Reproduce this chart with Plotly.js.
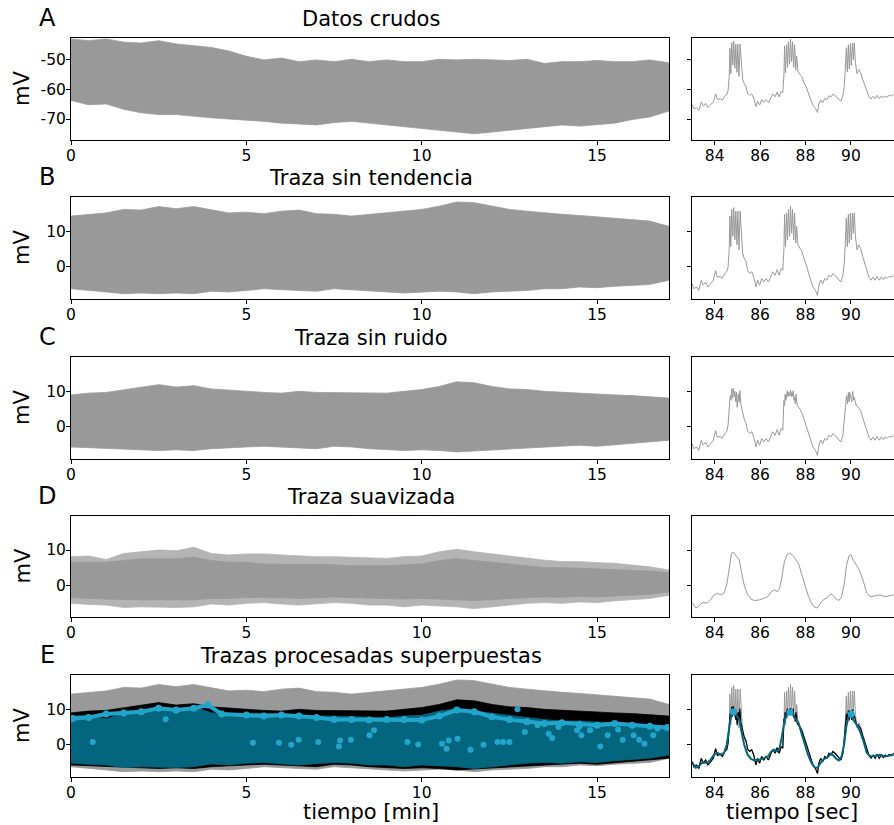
<!DOCTYPE html>
<html><head><meta charset="utf-8">
<script src="https://cdn.plot.ly/plotly-3.0.1.min.js"></script>
<style>html,body{margin:0;padding:0;background:#fff}#plot{width:894px;height:825px}</style>
</head><body><div id="plot"></div>
<script>
// ---------- DATA ----------
// Envelopes of the long recordings, time in minutes
const tMin = [0,0.5,1,1.5,2,2.5,3,3.5,4,4.5,5,5.5,6,6.5,7,7.5,8,8.5,9,9.5,10,10.5,11,11.5,12,12.5,13,13.5,14,14.5,15,15.5,16,16.5,17.05];
// A: raw data (mV)
const rawHi = [-42.9,-43.5,-42.9,-44,-44.3,-43.5,-44.6,-45.2,-45.8,-47,-48.8,-50,-49.4,-50.6,-50,-50.6,-49.8,-50.6,-50,-50.6,-50.6,-49.8,-50,-49.8,-50,-50.2,-49.8,-51.2,-50.6,-50.6,-50.2,-50.6,-50.6,-50,-51];
const rawLo = [-63.7,-65.2,-64.9,-66.7,-67.9,-68.5,-68.5,-69,-69.6,-70,-70.5,-70.8,-71.4,-71.7,-72,-71.2,-70.8,-71.2,-72,-72.6,-73.2,-73.8,-74.4,-75,-74.4,-73.8,-73.2,-72.6,-72,-72.4,-72,-71.4,-70.2,-69.3,-67.3];
// B: detrended
const detHi = [14.3,14.8,15.2,16.2,16,17,16.4,17,16.2,15.2,15.4,15,15.7,16,15,14.8,14.3,14.8,15.2,15.7,16.2,17.1,18.3,18.1,17.1,16.2,15.7,15.2,14.8,14.5,14.1,13.8,13.5,12.9,11.4];
const detLo = [-6.2,-6.7,-7.1,-7.6,-7.4,-7.6,-7.4,-7.6,-6.9,-7.1,-6.7,-6.2,-6.5,-6.7,-6.9,-6.2,-6.5,-6.9,-7.1,-7.4,-7.1,-6.9,-7.1,-7.6,-7.1,-6.9,-6.7,-6.2,-6.2,-5.7,-5.9,-5.5,-5.2,-5,-3.8];
// C: denoised
const denHi = [9,9.5,9.7,10.5,11.2,11.9,11.2,11.6,10.7,10.3,10,9.7,9.5,10,9.7,9.7,9.5,9.7,9.5,10,10.5,11.4,12.7,12.4,11.4,10.7,10.5,10,9.7,9.5,9.3,9,8.8,8.4,8.1];
const denLo = [-5.7,-5.9,-6.2,-6.5,-6.5,-6.7,-6.5,-6.7,-6.2,-5.9,-5.7,-5.5,-5.7,-5.9,-6.2,-5.5,-5.7,-6.2,-6.5,-6.7,-6.5,-6.7,-7.1,-6.9,-6.7,-6.2,-5.9,-5.7,-5.5,-5.2,-5.5,-5.2,-4.8,-4.3,-3.8];
// D: smoothed (outer extent and dense core)
const smoHi = [8.1,8.3,7.3,9,9.5,10,9.8,10.8,9,8.6,8.9,8.9,8.6,8.3,8.1,8.1,7.9,7.6,7.6,8.1,8.3,9.5,10.2,9.5,8.9,8.1,7.6,7.1,6.7,6.7,6.4,6.2,5.7,5.2,4.3];
const smoLo = [-5.2,-5.5,-5.7,-6.4,-6.2,-6.2,-6.4,-6.2,-5.4,-5.7,-5.2,-5,-5.4,-5.7,-5.4,-5,-5.2,-5.7,-5.7,-6.2,-5.7,-6,-6.2,-6.7,-6.2,-5.7,-5.2,-5,-5.2,-4.8,-5,-4.5,-4.1,-3.8,-2.9];
const smoCoreHi = [6.5,6.5,6.5,7,7.5,7.5,7.5,8,7,6.5,6.5,6,6,6,5.8,5.8,5.5,5.5,5.5,5.8,6,7,7.5,7,6.5,6,5.5,5,5,4.8,4.5,4.5,4.2,4,3.5];
const smoCoreLo = [-3.5,-3.8,-4,-4.2,-4.2,-4.2,-4.3,-4.2,-3.8,-3.8,-3.5,-3.5,-3.6,-3.8,-3.6,-3.4,-3.5,-3.8,-3.8,-4,-3.8,-4,-4.2,-4.4,-4.2,-3.8,-3.5,-3.4,-3.5,-3.2,-3.4,-3,-2.8,-2.6,-2];
// E: detected peaks (top band) and scattered peaks
const peakT = [0.05,0.5,1,1.5,2,2.5,3,3.5,3.9,4.3,5,5.5,6,6.5,7,7.5,8,8.5,9,9.5,10,10.5,11,11.5,12,12.5,13,13.5,14,14.5,15,15.5,16,16.5,17];
const peakV = [7.4,7.7,8.7,9,9.3,10.3,9.8,10.3,11.2,8.7,8.4,8.1,8.4,8.1,7.7,7.1,7.1,7,7.1,7.1,7,8.1,9.8,9.3,7.9,7.1,6.5,6,6.2,5.8,5.5,6,5.5,5.2,4.9];
const otherPeakT = [0.62,2.7,5.19,5.93,6.28,6.49,7.05,7.67,7.64,7.98,8.51,8.64,9.59,9.9,10.58,10.71,10.77,11.02,11.39,11.76,12.16,12.32,12.5,12.73,12.94,13.3,13.62,13.72,13.9,14.43,14.5,14.55,14.8,15.09,15.3,15.6,15.73,16.04,16.2,16.35,16.6,16.72];
const otherPeakV = [0.8,7.2,0.6,0.6,0,1.4,0.8,1.2,-0.5,1.4,2.7,4.1,0.8,0.1,0.3,-1.1,1.2,1.7,-1.4,0,0.8,0.8,0.8,10,3.6,5.5,3.1,1.9,5,4.1,5.2,2.7,4.1,-0.5,2.7,4.3,1.4,2.7,1.4,0.3,2.7,4.6];

// Zoom panels, time in seconds
const zoomT = [83.01,83.08,83.2,83.3,83.41,83.5,83.6,83.7,83.82,83.94,84.04,84.12,84.24,84.34,84.44,84.53,84.59,84.64,84.67,84.71,84.75,84.8,84.84,84.89,84.93,84.98,85.02,85.07,85.12,85.18,85.23,85.3,85.38,85.45,85.54,85.63,85.72,85.82,85.89,85.98,86.07,86.16,86.26,86.37,86.46,86.56,86.66,86.75,86.84,86.93,87.0,87.05,87.08,87.12,87.17,87.21,87.25,87.3,87.34,87.39,87.43,87.48,87.52,87.57,87.61,87.67,87.76,87.85,87.93,88.04,88.14,88.23,88.33,88.44,88.53,88.59,88.67,88.76,88.85,88.94,89.03,89.12,89.21,89.3,89.38,89.47,89.56,89.65,89.71,89.75,89.8,89.84,89.89,89.93,89.98,90.02,90.07,90.11,90.15,90.2,90.27,90.35,90.43,90.52,90.63,90.72,90.8,90.89,90.98,91.07,91.16,91.25,91.34,91.43,91.51,91.6,91.69,91.81,91.88];
const rawZoom = [-65.2,-66.6,-66.1,-67.1,-64.2,-65.6,-64.7,-66.1,-65.2,-64.2,-61.5,-63.4,-63.1,-63.7,-62.3,-61.8,-60.4,-55.6,-46.1,-54.7,-44.2,-51.8,-43.7,-52.8,-44.7,-54.2,-44.7,-55.6,-44.7,-53.7,-56.6,-58,-59,-61.4,-62,-61.5,-63,-65.8,-63.9,-65.3,-63.4,-64.4,-63.4,-64.4,-62.8,-61.5,-62.5,-60.9,-62.5,-60.6,-61.1,-55.3,-45.3,-54.4,-44.9,-52.5,-43.9,-51.5,-43,-50.6,-43.9,-52.5,-44.9,-53.4,-48.7,-53.9,-54.9,-55.8,-57.7,-59.2,-61.6,-63.5,-65.4,-66.4,-67.8,-64.9,-63.5,-64.5,-63,-63.5,-62.1,-62.6,-61.6,-62.1,-62.7,-63.5,-64,-62.1,-58.7,-53.5,-45.9,-54,-44.9,-53,-44.5,-51.9,-44.3,-50,-44.3,-50.9,-54.7,-53.3,-54.3,-56.6,-59,-60.8,-62.4,-63.2,-62.3,-63.1,-62,-63.1,-62.2,-62.9,-62.2,-62.6,-62,-62.2,-61.7];
const detZoom = [-4.8,-6.2,-5.7,-6.7,-3.8,-5.2,-4.3,-5.7,-4.8,-3.8,-1.1,-3,-2.7,-3.3,-1.9,-1.4,0,4.8,14.3,5.7,16.2,8.6,16.7,7.6,15.7,6.2,15.7,4.8,15.7,6.7,3.8,2.4,1.4,-1,-1.9,-1.4,-2.9,-5.7,-3.8,-5.2,-3.3,-4.3,-3.3,-4.3,-2.7,-1.4,-2.4,-0.8,-2.4,-0.5,-1,4.8,14.8,5.7,15.2,7.6,16.2,8.6,17.1,9.5,16.2,7.6,15.2,6.7,11.4,6.2,5.2,4.3,2.4,0.5,-1.9,-3.8,-5.7,-6.7,-8.1,-5.2,-3.8,-4.8,-3.3,-3.8,-2.4,-2.9,-1.9,-2.4,-3,-3.8,-4.3,-2.4,1,6.2,13.8,5.7,14.8,6.7,15.2,7.6,15.2,9.5,15.2,8.6,4.8,6.2,5.2,2.9,0.5,-1.4,-3,-3.8,-2.9,-3.8,-2.7,-3.8,-2.9,-3.6,-2.9,-3.3,-2.7,-2.9,-2.4];
const denZoomT = [83.01,83.08,83.2,83.3,83.41,83.5,83.6,83.7,83.82,83.94,84.04,84.12,84.24,84.34,84.44,84.53,84.59,84.64,84.68,84.72,84.75,84.79,84.82,84.86,84.89,84.93,84.96,84.99,85.04,85.08,85.11,85.15,85.22,85.3,85.38,85.45,85.54,85.63,85.72,85.82,85.89,85.98,86.07,86.16,86.26,86.37,86.46,86.56,86.66,86.75,86.84,86.93,87.0,87.05,87.08,87.1,87.14,87.2,87.23,87.27,87.3,87.34,87.37,87.4,87.43,87.46,87.49,87.52,87.55,87.58,87.64,87.76,87.85,87.93,88.04,88.14,88.23,88.33,88.44,88.53,88.59,88.67,88.76,88.85,88.94,89.03,89.12,89.21,89.3,89.38,89.47,89.56,89.65,89.71,89.76,89.81,89.85,89.89,89.92,89.95,90.0,90.04,90.08,90.12,90.15,90.24,90.33,90.43,90.52,90.63,90.72,90.8,90.89,90.98,91.07,91.16,91.25,91.34,91.43,91.51,91.6,91.69,91.81,91.88];
const denZoom = [-4.8,-6.2,-5.7,-6.7,-3.8,-5.2,-4.3,-5.7,-4.8,-3.8,-1.1,-3,-2.7,-3.3,-1.9,-1.4,0.5,6.4,8.8,7.5,10.7,8,10.9,8.5,10,7,9.7,5.5,9.2,7,10.2,6.4,4,2.2,1,-1.2,-1.9,-1.4,-2.9,-5.7,-3.8,-5.2,-3.3,-4.3,-3.3,-4.3,-2.7,-1.4,-2.4,-0.8,-2.4,-0.5,-1,7.4,6,9.2,7.5,10.2,8.5,9.7,8.8,10.4,8.5,9.7,8.6,10.2,7.5,8.3,6.5,9.2,5.9,5,3.8,2.2,0.3,-1.9,-3.8,-5.7,-6.7,-8.1,-5.2,-3.8,-4.8,-3.3,-3.8,-2.4,-2.9,-1.9,-2.4,-3,-3.8,-4.3,-2.4,1,5.5,8.8,6.5,9.7,7,9.7,8.3,7,10,7.5,8.3,5.9,5.5,4.6,2.6,0.3,-1.4,-3,-3.8,-2.9,-3.8,-2.7,-3.8,-2.9,-3.6,-2.9,-3.3,-2.7,-2.9,-2.4];
const smoZoomT = [83.01,83.16,83.3,83.45,83.67,83.82,83.97,84.12,84.27,84.41,84.53,84.64,84.74,84.83,84.93,85.08,85.18,85.3,85.45,85.6,85.75,85.97,86.19,86.34,86.49,86.63,86.75,86.86,86.96,87.08,87.2,87.3,87.45,87.59,87.7,87.82,87.96,88.11,88.26,88.41,88.53,88.67,88.82,88.97,89.12,89.24,89.36,89.47,89.59,89.7,89.81,89.92,90.0,90.11,90.26,90.41,90.56,90.7,90.86,91.07,91.29,91.51,91.73,91.88];
const smoZoom = [-5,-6.5,-6.1,-5,-5.1,-4.2,-2.8,-2.3,-2.8,-2.3,0,5.1,9.1,9.3,8.4,7.2,3.7,0,-2.8,-4,-4.4,-4.2,-3.7,-3.3,-1.9,-1.4,-1.9,-0.9,2.3,7,8.9,9.1,8.4,7.2,6.1,3.3,0,-2.8,-5.1,-6.4,-6.5,-5.1,-4,-3.5,-2.5,-3.1,-4,-4.4,-3.3,0,5.6,8.4,8.7,7,5.6,3.7,0.9,-2.3,-3.3,-3.1,-2.8,-3.3,-3.1,-2.8];
const zoomPeakT = [84.83,87.32,90.02];
const zoomPeakV = [9.3,9.2,8.7];

// Labels
const panelLetters = ['A','B','C','D','E'];
const panelTitles = ['Datos crudos','Traza sin tendencia','Traza sin ruido','Traza suavizada','Trazas procesadas superpuestas'];
const minTicks = [0,5,10,15];
const secTicks = [84,86,88,90];
const rawTicks = [-70,-60,-50];
const rawTickText = ['-70','-60','-50'];
const mvTicks = [0,10];
const mvTickText = ['0','10'];

// ---------- LAYOUT HELPERS ----------
const W = 894, H = 825;
const FONT = 'DejaVu Sans';
const GRAY = '#999999', LIGHTGRAY = '#b4b4b4', TEAL = '#04657f', LIGHT = '#22a5cb';
const rows = [[38,140],[197,299],[357,459],[516,617],[675,777]];
const leftX = [71/W, 669/W], rightX = [692/W, 1];
const minRange = [0,17.05], secRange = [83.0,91.9];
const rawRange = [-77.1,-42.6], mvRange = [-9.1,19.7];

function band(t, hi, lo, color, xa, ya){
  return {x: t.concat(t.slice().reverse()), y: hi.concat(lo.slice().reverse()),
    xaxis: xa, yaxis: ya, mode:'lines', fill:'toself', fillcolor: color,
    line:{color: color, width: 0.8}, hoverinfo:'skip'};
}
function line(t, v, color, width, xa, ya){
  return {x:t, y:v, xaxis:xa, yaxis:ya, mode:'lines', line:{color:color, width:width}, hoverinfo:'skip'};
}
function baseAxis(){
  return {showline:true, linecolor:'black', linewidth:1, ticks:'outside', ticklen:4, tickwidth:1,
    tickcolor:'black', showgrid:false, zeroline:false, fixedrange:true, ticklabelstandoff:-3,
    tickfont:{family:FONT, size:15.5, color:'black'}};
}

const traces = [];
const layout = {width:W, height:H, margin:{l:0,r:0,t:0,b:0}, paper_bgcolor:'white', plot_bgcolor:'white',
  showlegend:false, annotations:[]};

const leftData = [[rawHi,rawLo],[detHi,detLo],[denHi,denLo],[smoHi,smoLo]];
const rightData = [[zoomT,rawZoom],[zoomT,detZoom],[denZoomT,denZoom],[smoZoomT,smoZoom]];

for (let i=0;i<5;i++){
  const li = 2*i+1, ri = 2*i+2;
  const yd = [1-rows[i][1]/H, 1-rows[i][0]/H];
  const yr = i===0 ? rawRange : mvRange;
  const tv = i===0 ? rawTicks : mvTicks;
  const tt = i===0 ? rawTickText : mvTickText;
  layout['xaxis'+li] = Object.assign(baseAxis(), {domain:leftX, range:minRange, anchor:'y'+li, mirror:true, tickvals:minTicks});
  layout['yaxis'+li] = Object.assign(baseAxis(), {domain:yd, range:yr, anchor:'x'+li, mirror:true, tickvals:tv, ticktext:tt});
  layout['xaxis'+ri] = Object.assign(baseAxis(), {domain:rightX, range:secRange, anchor:'y'+ri, mirror:true, tickvals:secTicks});
  layout['yaxis'+ri] = Object.assign(baseAxis(), {domain:yd, range:yr, anchor:'x'+ri, mirror:false, tickvals:tv, showticklabels:false});
  const xl = 'x'+li, yl='y'+li, xr='x'+ri, yrr='y'+ri;
  if (i<3){
    traces.push(band(tMin, leftData[i][0], leftData[i][1], GRAY, xl, yl));
    traces.push(line(rightData[i][0], rightData[i][1], GRAY, 1, xr, yrr));
  } else if (i===3){
    traces.push(band(tMin, smoHi, smoLo, LIGHTGRAY, xl, yl));
    traces.push(band(tMin, smoCoreHi, smoCoreLo, GRAY, xl, yl));
    traces.push(line(rightData[i][0], rightData[i][1], GRAY, 1, xr, yrr));
  } else {
    traces.push(band(tMin, detHi, detLo, GRAY, xl, yl));
    traces.push(band(tMin, denHi, denLo, 'black', xl, yl));
    traces.push(band(tMin, smoHi, smoLo, TEAL, xl, yl));
    traces.push({x:peakT, y:peakV, xaxis:xl, yaxis:yl, mode:'lines+markers', line:{color:LIGHT, width:4},
      marker:{color:LIGHT, size:7}, hoverinfo:'skip'});
    traces.push({x:otherPeakT, y:otherPeakV, xaxis:xl, yaxis:yl, mode:'markers',
      marker:{color:LIGHT, size:6}, hoverinfo:'skip'});
    traces.push(line(zoomT, detZoom, GRAY, 1, xr, yrr));
    traces.push(line(denZoomT, denZoom, 'black', 1.2, xr, yrr));
    traces.push(line(smoZoomT, smoZoom, TEAL, 2, xr, yrr));
    traces.push({x:zoomPeakT, y:zoomPeakV, xaxis:xr, yaxis:yrr, mode:'markers', marker:{color:LIGHT, size:7}, hoverinfo:'skip'});
  }
  const top = rows[i][0], mid = (rows[i][0]+rows[i][1])/2;
  layout.annotations.push({text:panelLetters[i], xref:'paper', yref:'paper', x:47/W, y:1-(top-20)/H,
    xanchor:'center', yanchor:'middle', showarrow:false, font:{family:FONT, size:24, color:'black'}});
  layout.annotations.push({text:panelTitles[i], xref:'paper', yref:'paper', x:371/W, y:1-(top-19)/H,
    xanchor:'center', yanchor:'middle', showarrow:false, font:{family:FONT, size:21, color:'black'}});
  layout.annotations.push({text:'mV', xref:'paper', yref:'paper', x:22/W, y:1-mid/H, textangle:-90,
    xanchor:'center', yanchor:'middle', showarrow:false, font:{family:FONT, size:21, color:'black'}});
}
layout.annotations.push({text:'tiempo [min]', xref:'paper', yref:'paper', x:371/W, y:1-812/H,
  xanchor:'center', yanchor:'middle', showarrow:false, font:{family:FONT, size:21, color:'black'}});
layout.annotations.push({text:'tiempo [sec]', xref:'paper', yref:'paper', x:792/W, y:1-812/H,
  xanchor:'center', yanchor:'middle', showarrow:false, font:{family:FONT, size:21, color:'black'}});

Plotly.newPlot('plot', traces, layout, {staticPlot:true, displayModeBar:false});
</script></body></html>
